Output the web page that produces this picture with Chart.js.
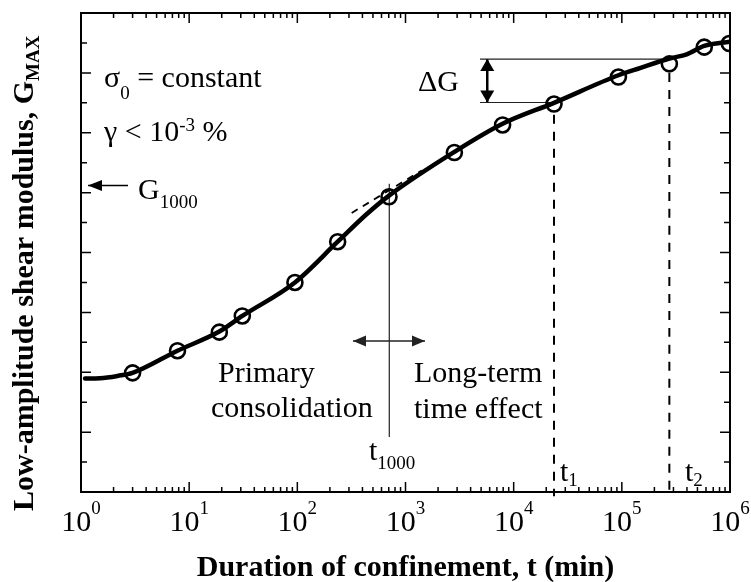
<!DOCTYPE html>
<html>
<head>
<meta charset="utf-8">
<script src="https://cdn.jsdelivr.net/npm/chart.js@4.4.0/dist/chart.umd.min.js"></script>
<style>
  html, body { margin: 0; padding: 0; background: #fff; }
</style>
</head>
<body>
<canvas id="chart" width="751" height="582"></canvas>
<script>
// measured points (circles) : time in min, G in axis units (0..8, no labels)
const markerT = [3, 7.8, 19, 31, 95, 236, 704, 2830, 7900, 23600, 93000, 275000, 578000, 985000];
const markerG = [1.99, 2.36, 2.67, 2.94, 3.50, 4.18, 4.93, 5.67, 6.13, 6.48, 6.93, 7.15, 7.43, 7.49];

// thick trend curve
const curveT = [1.09, 1.5, 2.2, 3, 7.8, 19, 31, 95, 236, 431, 704, 2830, 7900, 23600, 93000, 147000, 275000, 398000, 578000, 1000000];
const curveG = [1.895, 1.90, 1.94, 1.99, 2.36, 2.68, 2.94, 3.50, 4.18, 4.63, 4.95, 5.68, 6.15, 6.50, 6.96, 7.08, 7.24, 7.31, 7.45, 7.52];

// tangent at t1000 (dashed)
const tangentT = [318, 1413];
const tangentG = [4.66, 5.37];

// reference times
const t1000 = 708, t1 = 23600, t2 = 275000;
const t1000LineG = [5.15, 0.917];
const splitArrowT = [327, 1514], splitArrowG = 2.52;
const t1LineG = [6.3, -0.07], t2LineG = [7.0, -0.07];

// delta G bracket
const dGTop = 7.23, dGBottom = 6.505;
const dGStartT = 4885, dGArrowT = 5700;

// G1000 arrow on the left
const g1000ArrowT = [2.72, 1.16], g1000ArrowG = 5.12;

const xTickExps = [0, 1, 2, 3, 4, 5, 6];

const serif = '"Liberation Serif", "Times New Roman", serif';

function pts(xs, ys) {
    return xs.map((v, i) => ({x: v, y: Array.isArray(ys) ? ys[i] : ys}));
}

function thin(data, extra) {
    return Object.assign({
        type: 'line', data: data, borderColor: '#222', borderWidth: 1.2,
        pointRadius: 0, fill: false, tension: 0, order: 2
    }, extra || {});
}

function arrowHead(ctx, x, y, ang, len, half) {
    ctx.save();
    ctx.translate(x, y);
    ctx.rotate(ang);
    ctx.beginPath();
    ctx.moveTo(0, 0);
    ctx.lineTo(-len, -half);
    ctx.lineTo(-len, half);
    ctx.closePath();
    ctx.fill();
    ctx.restore();
}

// draws pieces like [text, size, dy] one after another
function rich(ctx, parts, x, y, bold) {
    let cx = x;
    parts.forEach(p => {
        ctx.font = (bold ? 'bold ' : '') + p[1] + 'px ' + serif;
        ctx.fillText(p[0], cx, y + (p[2] || 0));
        cx += ctx.measureText(p[0]).width;
    });
    return cx - x;
}

function richWidth(ctx, parts, bold) {
    let w = 0;
    parts.forEach(p => {
        ctx.font = (bold ? 'bold ' : '') + p[1] + 'px ' + serif;
        w += ctx.measureText(p[0]).width;
    });
    return w;
}

const decorPlugin = {
    id: 'decor',
    afterDatasetsDraw(chart) {
        const ctx = chart.ctx;
        // arrow heads on datasets that ask for them
        chart.data.datasets.forEach((ds, i) => {
            if (!ds.heads) return;
            const pts = chart.getDatasetMeta(i).data;
            ctx.save();
            ctx.fillStyle = ds.borderColor;
            const n = pts.length;
            if (ds.heads.includes('end')) {
                const a = Math.atan2(pts[n - 1].y - pts[n - 2].y, pts[n - 1].x - pts[n - 2].x);
                arrowHead(ctx, pts[n - 1].x, pts[n - 1].y, a, ds.headLen, ds.headHalf);
            }
            if (ds.heads.includes('start')) {
                const a = Math.atan2(pts[0].y - pts[1].y, pts[0].x - pts[1].x);
                arrowHead(ctx, pts[0].x, pts[0].y, a, ds.headLen, ds.headHalf);
            }
            ctx.restore();
        });
    },
    afterDraw(chart) {
        const ctx = chart.ctx;
        const a = chart.chartArea;
        const x = chart.scales.x, y = chart.scales.y;
        ctx.save();
        ctx.strokeStyle = '#000';

        // inward ticks on all four sides
        ctx.lineWidth = 1.5;
        ctx.beginPath();
        for (let k = 0; k < 6; k++) {
            for (let m = 1; m <= 9; m++) {
                const px = x.getPixelForValue(m * Math.pow(10, k));
                const len = m === 1 ? 10 : 5;
                ctx.moveTo(px, a.bottom); ctx.lineTo(px, a.bottom - len);
                ctx.moveTo(px, a.top); ctx.lineTo(px, a.top + len);
            }
        }
        for (let v = 0.5; v < 8; v += 0.5) {
            const py = y.getPixelForValue(v);
            const len = v % 1 === 0 ? 10 : 6;
            ctx.moveTo(a.left, py); ctx.lineTo(a.left + len, py);
            ctx.moveTo(a.right, py); ctx.lineTo(a.right - len, py);
        }
        ctx.stroke();

        ctx.lineWidth = 2;
        ctx.strokeRect(a.left, a.top, a.right - a.left, a.bottom - a.top);

        // x tick labels 10^k
        ctx.fillStyle = '#000';
        ctx.textBaseline = 'alphabetic';
        ctx.textAlign = 'left';
        xTickExps.forEach(k => {
            const parts = [['10', 30], [String(k), 19, -17]];
            const w = richWidth(ctx, parts);
            rich(ctx, parts, x.getPixelForValue(Math.pow(10, k)) - w / 2, 531);
        });

        // axis titles
        const xt = [['Duration of confinement, t (min)', 30]];
        rich(ctx, xt, (a.left + a.right) / 2 - richWidth(ctx, xt, true) / 2, 576, true);

        ctx.save();
        ctx.translate(33, 511);
        ctx.rotate(-Math.PI / 2);
        rich(ctx, [['Low-amplitude shear modulus, G', 30], ['MAX', 19, 6]], 0, 0, true);
        ctx.restore();

        // annotations
        rich(ctx, [['\u03c3', 30], ['0', 19, 12], [' = constant', 30]], 104, 87);
        rich(ctx, [['\u03b3 < 10', 30], ['-3', 19, -10], [' %', 30]], 104, 141);
        rich(ctx, [['G', 30], ['1000', 19, 9]], 138, 199);
        rich(ctx, [['\u0394G', 30]], 418, 91);
        rich(ctx, [['Primary', 30]], 218, 382);
        rich(ctx, [['consolidation', 30]], 211, 417);
        rich(ctx, [['Long-term', 30]], 414, 382);
        rich(ctx, [['time effect', 30]], 414, 418);
        rich(ctx, [['t', 30], ['1000', 19, 9]], 369, 460);
        rich(ctx, [['t', 30], ['1', 19, 5]], 560, 481);
        rich(ctx, [['t', 30], ['2', 19, 5]], 685, 481);
        ctx.restore();
    }
};

const datasets = [
    {
        type: 'line', data: pts(markerT, markerG), showLine: false,
        pointRadius: 7.5, pointBorderWidth: 2.6, pointBorderColor: '#000',
        pointBackgroundColor: 'rgba(0,0,0,0)', clip: 0, order: 0
    },
    {
        type: 'line', data: pts(curveT, curveG), borderColor: '#000', borderWidth: 4.5,
        pointRadius: 0, fill: false, cubicInterpolationMode: 'monotone', order: 1,
        borderCapStyle: 'round'
    },
    thin(pts(tangentT, tangentG), {borderColor: '#000', borderWidth: 1.8, borderDash: [7, 6]}),
    thin(pts([t1000, t1000], t1000LineG)),
    thin(pts(splitArrowT, splitArrowG), {borderWidth: 1.5, heads: ['start', 'end'], headLen: 13, headHalf: 5.5}),
    thin(pts([t1, t1], t1LineG), {borderColor: '#000', borderWidth: 2, borderDash: [9, 8], clip: false}),
    thin(pts([t2, t2], t2LineG), {borderColor: '#000', borderWidth: 2, borderDash: [9, 8], clip: false}),
    thin(pts([dGStartT, t2], dGTop)),
    thin(pts([dGStartT, t1], dGBottom)),
    thin(pts([dGArrowT, dGArrowT], [dGBottom, dGTop]), {borderColor: '#000', borderWidth: 2.5, heads: ['start', 'end'], headLen: 12, headHalf: 7}),
    thin(pts(g1000ArrowT, g1000ArrowG), {borderColor: '#000', borderWidth: 1.6, heads: ['end'], headLen: 14, headHalf: 5.5, clip: false})
];

new Chart(document.getElementById('chart'), {
    data: {datasets: datasets},
    options: {
        responsive: false,
        animation: false,
        events: [],
        layout: {padding: {left: 81, right: 21, top: 13, bottom: 90}},
        plugins: {legend: {display: false}, tooltip: {enabled: false}},
        scales: {
            x: {type: 'logarithmic', min: 1, max: 1000000, display: false},
            y: {type: 'linear', min: 0, max: 8, display: false}
        }
    },
    plugins: [decorPlugin]
});
</script>
</body>
</html>
